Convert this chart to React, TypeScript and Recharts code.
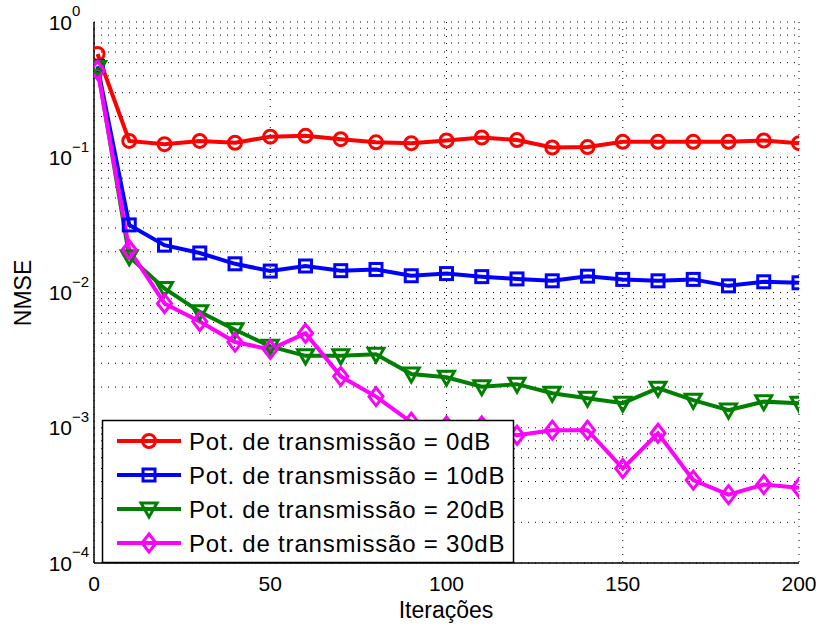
import React from 'react';
import { LineChart, Line, XAxis, YAxis, CartesianGrid, Label } from 'recharts';

// x positions of the samples
const iterations = [1, 10, 20, 30, 40, 50, 60, 70, 80, 90, 100, 110, 120, 130, 140, 150, 160, 170, 180, 190, 200];

// NMSE per transmit power
const nmse0dB = [0.58, 0.132, 0.125, 0.132, 0.128, 0.142, 0.144, 0.136, 0.129, 0.127, 0.133, 0.14, 0.134, 0.118, 0.119, 0.13, 0.13, 0.13, 0.13, 0.133, 0.127];
const nmse10dB = [0.47, 0.0316, 0.0224, 0.0196, 0.0163, 0.0144, 0.0157, 0.0145, 0.0148, 0.0133, 0.0138, 0.0131, 0.0126, 0.0122, 0.0132, 0.0125, 0.0122, 0.0125, 0.0112, 0.012, 0.0118];
const nmse20dB = [0.46, 0.0184, 0.0107, 0.0072, 0.0053, 0.004, 0.0034, 0.0034, 0.0035, 0.0025, 0.00236, 0.00201, 0.0021, 0.0018, 0.00165, 0.00152, 0.00196, 0.0016, 0.00135, 0.00156, 0.00152];
const nmse30dB = [0.44, 0.0207, 0.0083, 0.0061, 0.0043, 0.0038, 0.005, 0.0024, 0.0017, 0.0011, 0.00103, 0.00103, 0.00088, 0.00096, 0.00096, 0.0005, 0.00091, 0.00041, 0.00032, 0.00038, 0.00036];

const xTicks = [0, 50, 100, 150, 200];
const decadeTicks = [1e-4, 1e-3, 1e-2, 1e-1, 1];
const minorTicks = [1e-4, 1e-3, 1e-2, 1e-1].flatMap((d) => [1, 2, 3, 4, 5, 6, 7, 8, 9].map((m) => m * d)).concat([1]);

const legendLabels = [
  'Pot. de transmissão = 0dB',
  'Pot. de transmissão = 10dB',
  'Pot. de transmissão = 20dB',
  'Pot. de transmissão = 30dB',
];

const data = iterations.map((it, i) => ({
  it,
  p0: nmse0dB[i],
  p10: nmse10dB[i],
  p20: nmse20dB[i],
  p30: nmse30dB[i],
}));

const FONT = '"Liberation Sans", Arial, Helvetica, sans-serif';

type MarkerKind = 'circle' | 'square' | 'triangle' | 'diamond';

function Marker({ kind, cx, cy, color }: { kind: MarkerKind; cx: number; cy: number; color: string }) {
  const common = { fill: 'none', stroke: color, strokeWidth: 3 };
  if (kind === 'circle') return <circle cx={cx} cy={cy} r={6.5} {...common} />;
  if (kind === 'square') return <rect x={cx - 6} y={cy - 6} width={12} height={12} {...common} />;
  if (kind === 'triangle')
    return <polygon points={`${cx - 8},${cy - 6} ${cx + 8},${cy - 6} ${cx},${cy + 8}`} {...common} />;
  return <polygon points={`${cx},${cy - 9} ${cx + 7},${cy} ${cx},${cy + 9} ${cx - 7},${cy}`} {...common} />;
}

const series = [
  { key: 'p0', color: '#ff0000', marker: 'circle' as MarkerKind },
  { key: 'p10', color: '#0000ff', marker: 'square' as MarkerKind },
  { key: 'p20', color: '#008000', marker: 'triangle' as MarkerKind },
  { key: 'p30', color: '#ff00ff', marker: 'diamond' as MarkerKind },
];

const YTick = (props: any) => {
  const { y, payload } = props;
  const exp = Math.log10(payload.value);
  if (Math.abs(exp - Math.round(exp)) > 1e-6) return <g />;
  const e = Math.round(exp);
  const sup = e < 0 ? '\u2212' + Math.abs(e) : String(e);
  return (
    <g>
      <text x={72} y={y} dy="0.36em" textAnchor="end" fontSize={21} fontFamily={FONT} fill="#000">
        10
      </text>
      <text x={72} y={y - 11} dy="0.36em" textAnchor="start" fontSize={15} fontFamily={FONT} fill="#000">
        {sup}
      </text>
    </g>
  );
};

const XTick = (props: any) => {
  const { x, payload } = props;
  return (
    <text x={x} y={583} dy="0.36em" textAnchor="middle" fontSize={21} fontFamily={FONT} fill="#000">
      {payload.value}
    </text>
  );
};

const EmptyTick = () => <g />;

const tickAxis = {
  allowDataOverflow: true,
  mirror: true,
  tick: EmptyTick,
  tickLine: { stroke: '#000', strokeWidth: 1 },
};

export default function App() {
  return (
    <div style={{ position: 'absolute', left: 0, top: 0, width: 819, height: 626, background: '#fff' }}>
      <LineChart width={819} height={626} data={data} margin={{ top: 22, right: 20, bottom: 0, left: 0 }}>
        <CartesianGrid
          xAxisId="main"
          yAxisId="main"
          stroke="#000"
          strokeDasharray="1 6"
          strokeWidth={1}
        />
        <XAxis
          xAxisId="main"
          dataKey="it"
          type="number"
          domain={[0, 200]}
          ticks={xTicks}
          allowDataOverflow
          height={63}
          tickLine={false}
          axisLine={{ stroke: '#000', strokeWidth: 1.5 }}
          tick={XTick}
        >
          <Label
            content={() => (
              <text x={446} y={610} dy="0.36em" textAnchor="middle" fontSize={23} fontFamily={FONT} fill="#000">
                Iterações
              </text>
            )}
          />
        </XAxis>
        <XAxis
          {...tickAxis}
          xAxisId="btm"
          dataKey="it"
          type="number"
          domain={[0, 200]}
          ticks={xTicks}
          height={0}
          tickSize={7}
          axisLine={false}
        />
        <XAxis
          {...tickAxis}
          xAxisId="top"
          orientation="top"
          dataKey="it"
          type="number"
          domain={[0, 200]}
          ticks={xTicks}
          height={0}
          tickSize={7}
          axisLine={{ stroke: '#000', strokeWidth: 1.5 }}
        />
        <YAxis
          yAxisId="main"
          scale="log"
          domain={[1e-4, 1]}
          allowDataOverflow
          ticks={minorTicks}
          interval={0}
          width={94}
          tickLine={false}
          axisLine={{ stroke: '#000', strokeWidth: 1.5 }}
          tick={YTick}
        >
          <Label
            content={() => (
              <text
                x={23}
                y={293}
                dy="0.36em"
                textAnchor="middle"
                fontSize={23}
                fontFamily={FONT}
                fill="#000"
                transform="rotate(-90 23 293)"
              >
                NMSE
              </text>
            )}
          />
        </YAxis>
        <YAxis
          {...tickAxis}
          yAxisId="lminor"
          scale="log"
          domain={[1e-4, 1]}
          ticks={minorTicks}
          interval={0}
          width={0}
          tickSize={4}
          axisLine={false}
        />
        <YAxis
          {...tickAxis}
          yAxisId="lmajor"
          scale="log"
          domain={[1e-4, 1]}
          ticks={decadeTicks}
          interval={0}
          width={0}
          tickSize={7}
          axisLine={false}
        />
        <YAxis
          {...tickAxis}
          yAxisId="rminor"
          orientation="right"
          scale="log"
          domain={[1e-4, 1]}
          ticks={minorTicks}
          interval={0}
          width={0}
          tickSize={4}
          axisLine={{ stroke: '#000', strokeWidth: 1.5 }}
        />
        <YAxis
          {...tickAxis}
          yAxisId="rmajor"
          orientation="right"
          scale="log"
          domain={[1e-4, 1]}
          ticks={decadeTicks}
          interval={0}
          width={0}
          tickSize={7}
          axisLine={false}
        />
        {series.map((s) => (
          <Line
            key={s.key}
            xAxisId="main"
            yAxisId="main"
            dataKey={s.key}
            type="linear"
            stroke={s.color}
            strokeWidth={4}
            isAnimationActive={false}
            activeDot={false}
            dot={(p: any) => <Marker key={`${s.key}-${p.index}`} kind={s.marker} cx={p.cx} cy={p.cy} color={s.color} />}
          />
        ))}
      </LineChart>
      <svg width={414} height={145} style={{ position: 'absolute', left: 101, top: 419 }}>
        <rect x={1.5} y={1.5} width={411} height={142} fill="#fff" stroke="#000" strokeWidth={1.5} />
        {series.map((s, i) => {
          const y = 22 + i * 34;
          return (
            <g key={s.key}>
              <line x1={16} x2={80} y1={y} y2={y} stroke={s.color} strokeWidth={4} />
              <Marker kind={s.marker} cx={48} cy={y} color={s.color} />
              <text x={88} y={y} dy="0.36em" fontSize={24} fontFamily={FONT} letterSpacing={0.8} fill="#000">
                {legendLabels[i]}
              </text>
            </g>
          );
        })}
      </svg>
    </div>
  );
}
